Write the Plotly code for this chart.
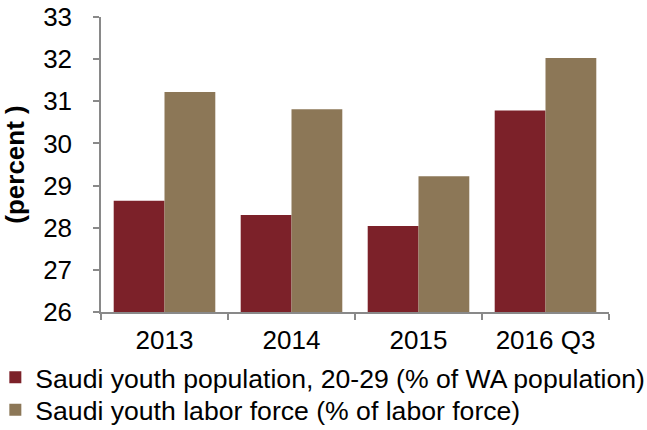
import plotly.graph_objects as go

categories = ["2013", "2014", "2015", "2016 Q3"]
youth_population = [28.64, 28.30, 28.04, 30.78]
youth_labor_force = [31.22, 30.81, 29.22, 32.03]
y_ticks = [26, 27, 28, 29, 30, 31, 32, 33]

fig = go.Figure()
fig.add_trace(go.Bar(x=categories, y=youth_population,
                     name="Saudi youth population, 20-29 (% of WA population)",
                     marker=dict(color="#7C2129", line=dict(width=0)),
                     legend="legend"))
fig.add_trace(go.Bar(x=categories, y=youth_labor_force,
                     name="Saudi youth labor force (% of labor force)",
                     marker=dict(color="#8C7757", line=dict(width=0)),
                     legend="legend2"))

leg_common = dict(xanchor="left", yanchor="middle", orientation="v",
                  font=dict(size=26.6), itemwidth=30, bgcolor="rgba(0,0,0,0)")

fig.update_layout(
    width=647, height=430,
    margin=dict(l=101, r=38, t=17, b=118, autoexpand=False),
    paper_bgcolor="white", plot_bgcolor="white",
    font=dict(family="Liberation Sans, Arial, sans-serif", size=26, color="#000"),
    barmode="group", bargap=0.2, bargroupgap=0,
    showlegend=True,
    legend=dict(x=-0.208, y=-0.222, **leg_common),
    legend2=dict(x=-0.208, y=-0.332, **leg_common),
    xaxis=dict(showline=True, linecolor="#898989", linewidth=1.5,
               ticks="outside", tickson="boundaries", ticklen=6,
               tickcolor="#898989", tickwidth=1.5, showgrid=False,
               automargin=False, tickfont=dict(size=26),
               ticklabelstandoff=4),
    yaxis=dict(range=[26, 33], tickvals=y_ticks, showline=True,
               linecolor="#898989", linewidth=1.5, ticks="outside",
               ticklen=6, tickcolor="#898989", tickwidth=1.5,
               showgrid=False, zeroline=False, tickfont=dict(size=26),
               automargin=False, ticklabelstandoff=16,
               title=dict(text="<b>(percent )</b>", font=dict(size=26),
                          standoff=16)),
)

fig.write_html("out.html", config={"displayModeBar": False},
               post_script="document.body.style.margin='0';")
